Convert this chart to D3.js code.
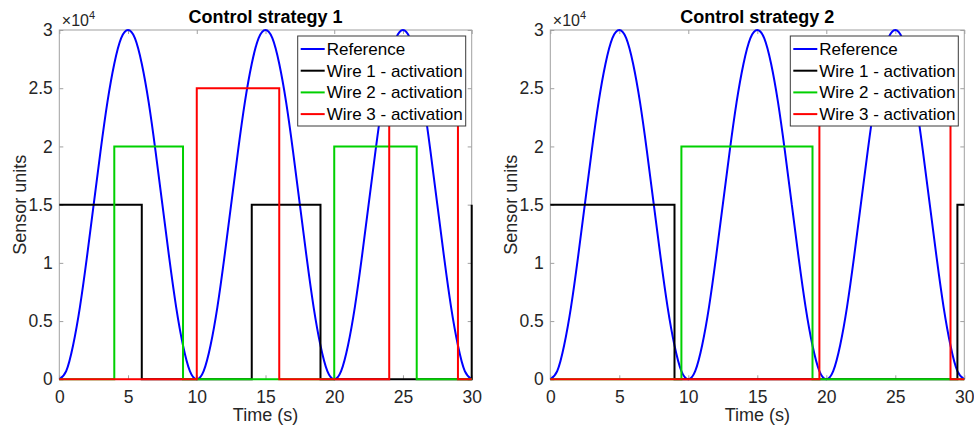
<!DOCTYPE html>
<html>
<head>
<meta charset="utf-8">
<script src="https://cdn.jsdelivr.net/npm/d3@7"></script>
<style>
  html, body { margin: 0; padding: 0; background: #fff; }
  svg { display: block; font-family: "Liberation Sans", Arial, Helvetica, sans-serif; }
</style>
</head>
<body>
<svg id="chart" width="974" height="429"></svg>
<script>
// Reference signal, sampled every 0.5 s (sensor units)
const refTime = d3.range(0, 30.001, 0.5);
const refValues = [
  0, 700, 2900, 6200, 10400, 15000, 19600, 23800, 27100, 29300,
  30000, 29300, 27100, 23800, 19600, 15000, 10400, 6200, 2900, 700,
  0, 700, 2900, 6200, 10400, 15000, 19600, 23800, 27100, 29300,
  30000, 29300, 27100, 23800, 19600, 15000, 10400, 6200, 2900, 700,
  0, 700, 2900, 6200, 10400, 15000, 19600, 23800, 27100, 29300,
  30000, 29300, 27100, 23800, 19600, 15000, 10400, 6200, 2900, 700,
  0
];

// Wire activation levels: switching times (s) and the level held from each time on
const s1Wire1Time = [0, 6, 14, 19, 30];
const s1Wire1Level = [15000, 0, 15000, 0, 15000];
const s1Wire2Time = [0, 4, 9, 20, 26, 30];
const s1Wire2Level = [0, 20000, 0, 20000, 0, 0];
const s1Wire3Time = [0, 10, 16, 24, 29, 30];
const s1Wire3Level = [0, 25000, 0, 25000, 0, 0];

const s2Wire1Time = [0, 9, 29.5, 30];
const s2Wire1Level = [15000, 0, 15000, 15000];
const s2Wire2Time = [0, 9.5, 19, 30];
const s2Wire2Level = [0, 20000, 0, 0];
const s2Wire3Time = [0, 19.5, 29, 30];
const s2Wire3Level = [0, 25000, 0, 0];

const titles = ["Control strategy 1", "Control strategy 2"];
const xTicks = [0, 5, 10, 15, 20, 25, 30];
const yTicks = [0, 5000, 10000, 15000, 20000, 25000, 30000];
const yTickLabels = ["0", "0.5", "1", "1.5", "2", "2.5", "3"];
const legendLabels = ["Reference", "Wire 1 - activation", "Wire 2 - activation", "Wire 3 - activation"];
const seriesColors = ["#0000ff", "#000000", "#00d000", "#ff0000"];

const zip = (t, v) => t.map((x, i) => ({ t: x, v: v[i] }));

const panels = [
  {
    title: titles[0], left: 59.3, right: 471.7,
    wires: [zip(s1Wire1Time, s1Wire1Level), zip(s1Wire2Time, s1Wire2Level), zip(s1Wire3Time, s1Wire3Level)]
  },
  {
    title: titles[1], left: 550.3, right: 964.3,
    wires: [zip(s2Wire1Time, s2Wire1Level), zip(s2Wire2Time, s2Wire2Level), zip(s2Wire3Time, s2Wire3Level)]
  }
];

const plotTop = 30, plotBottom = 379.3;
const svg = d3.select("#chart");
const refData = zip(refTime, refValues);
const axisColor = "#a0a0a0";
const textColor = "#262626";

panels.forEach(p => {
  const x = d3.scaleLinear().domain([0, 30]).range([p.left, p.right]);
  const y = d3.scaleLinear().domain([0, 30000]).range([plotBottom, plotTop]);
  const g = svg.append("g");

  // tick marks pointing inward on all four sides
  const tickLen = 4;
  const axB = g.append("g").attr("transform", `translate(0,${plotBottom})`)
    .call(d3.axisBottom(x).tickValues(xTicks).tickSizeInner(-tickLen).tickSizeOuter(0));
  const axT = g.append("g").attr("transform", `translate(0,${plotTop})`)
    .call(d3.axisTop(x).tickValues(xTicks).tickSizeInner(-tickLen).tickSizeOuter(0).tickFormat(""));
  const axL = g.append("g").attr("transform", `translate(${p.left},0)`)
    .call(d3.axisLeft(y).tickValues(yTicks).tickSizeInner(-tickLen).tickSizeOuter(0).tickPadding(6.5)
      .tickFormat((d, i) => yTickLabels[i]));
  const axR = g.append("g").attr("transform", `translate(${p.right},0)`)
    .call(d3.axisRight(y).tickValues(yTicks).tickSizeInner(-tickLen).tickSizeOuter(0).tickFormat(""));
  [axB, axT, axL, axR].forEach(a => {
    a.select(".domain").remove();
    a.selectAll(".tick line").attr("stroke", axisColor).attr("stroke-width", 1);
    a.selectAll("text").attr("fill", textColor).style("font-size", "17.5px")
      .style("font-family", '"Liberation Sans", Arial, sans-serif');
  });
  // x tick labels: baseline sits 24 px below the axis
  axB.selectAll("text").attr("dy", null).attr("y", 23.5);

  // axes box
  g.append("rect")
    .attr("x", p.left).attr("y", plotTop)
    .attr("width", p.right - p.left).attr("height", plotBottom - plotTop)
    .attr("fill", "none").attr("stroke", axisColor).attr("stroke-width", 1);

  // data lines
  const refLine = d3.line().x(d => x(d.t)).y(d => y(d.v)).curve(d3.curveNatural);
  const stepLine = d3.line().x(d => x(d.t)).y(d => y(d.v)).curve(d3.curveStepAfter);
  g.append("path").attr("d", refLine(refData))
    .attr("fill", "none").attr("stroke", seriesColors[0]).attr("stroke-width", 2);
  p.wires.forEach((w, i) => {
    g.append("path").attr("d", stepLine(w))
      .attr("fill", "none").attr("stroke", seriesColors[i + 1]).attr("stroke-width", 2)
      .attr("stroke-linejoin", "miter");
  });

  // title
  g.append("text").attr("x", (p.left + p.right) / 2).attr("y", 23)
    .attr("text-anchor", "middle").style("font-size", "18px").style("font-weight", "bold")
    .attr("fill", "#000").text(p.title);

  // exponent label
  const ex = g.append("text").attr("x", p.left + 2.5).attr("y", 26).attr("fill", textColor)
    .attr("font-size", 16).style("font-size", "16px");
  ex.append("tspan").style("font-size", "16px").text("×10");
  ex.append("tspan").attr("dy", -7).style("font-size", "11px").text("4");

  // axis labels
  g.append("text").attr("x", (p.left + p.right) / 2).attr("y", 421)
    .attr("text-anchor", "middle").style("font-size", "18px").attr("fill", textColor).text("Time (s)");
  g.append("text")
    .attr("transform", `translate(${p.left - 33},${(plotTop + plotBottom) / 2}) rotate(-90)`)
    .attr("text-anchor", "middle").style("font-size", "18px").attr("fill", textColor).text("Sensor units");

  // legend
  const lw = 168, lh = 90;
  const lx = p.right - 6 - lw, ly = plotTop + 6;
  const lg = g.append("g");
  lg.append("rect").attr("x", lx).attr("y", ly).attr("width", lw).attr("height", lh)
    .attr("fill", "#fff").attr("stroke", "#3a3a3a").attr("stroke-width", 1);
  legendLabels.forEach((lab, i) => {
    const cy = ly + 13 + i * 21.7;
    lg.append("line").attr("x1", lx + 3).attr("x2", lx + 27).attr("y1", cy).attr("y2", cy)
      .attr("stroke", seriesColors[i]).attr("stroke-width", 2);
    lg.append("text").attr("x", lx + 29).attr("y", cy).attr("dy", "0.35em")
      .style("font-size", "17px").attr("fill", "#000").text(lab);
  });
});
</script>
</body>
</html>
